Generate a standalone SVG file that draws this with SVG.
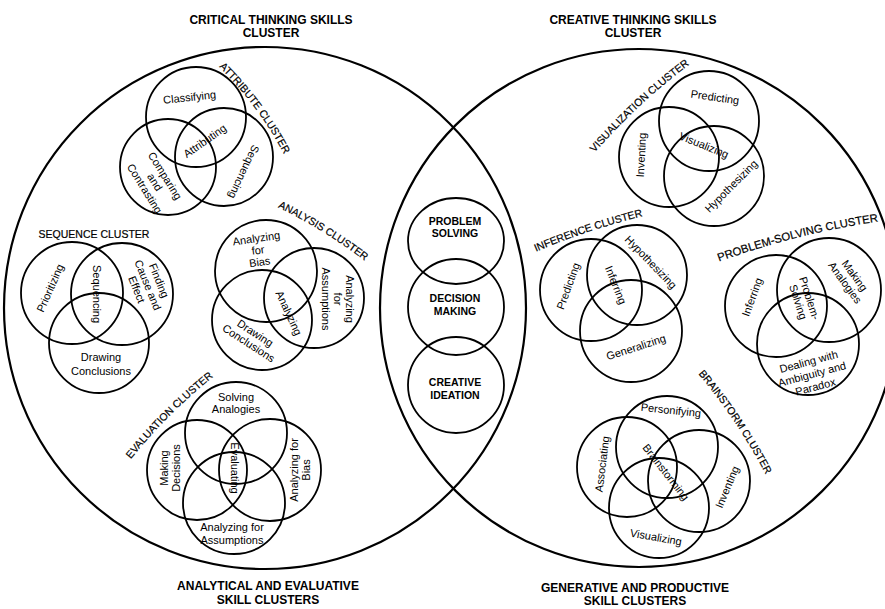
<svg xmlns="http://www.w3.org/2000/svg" width="885" height="609" viewBox="0 0 885 609">
<style>
.big{fill:none;stroke:#000;stroke-width:2.2}
.c{fill:none;stroke:#000;stroke-width:1.8}
text{font-family:"Liberation Sans",Arial,sans-serif;fill:#000;text-anchor:middle}
.t{font-size:11px}
.cl{font-size:10.5px;stroke:#000;stroke-width:0.2}
.ti{font-size:12px;font-weight:bold}
.ce{font-size:10.5px;font-weight:bold}
</style>
<defs>
<path id="p-attr" d="M 216 64 Q 259 105 286 158"/>
<path id="p-anal" d="M 273 205 Q 324 229 369 264"/>
<path id="p-eval" d="M 127 464 Q 167 413 218 373"/>
<path id="p-vis" d="M 591 157 Q 637 103 694 61"/>
<path id="p-inf" d="M 531 254 Q 588 229 648 215"/>
<path id="p-ps" d="M 710 265 Q 795 233 888 220"/>
<path id="p-brain" d="M 695 370 Q 738 420 768 479"/>
</defs>

<g id="titles">
<text class="ti" x="271" y="24">CRITICAL THINKING SKILLS</text>
<text class="ti" x="271" y="37">CLUSTER</text>
<text class="ti" x="633" y="24">CREATIVE THINKING SKILLS</text>
<text class="ti" x="633" y="37">CLUSTER</text>
<text class="ti" x="268" y="590">ANALYTICAL AND EVALUATIVE</text>
<text class="ti" x="268" y="604">SKILL CLUSTERS</text>
<text class="ti" x="635" y="592">GENERATIVE AND PRODUCTIVE</text>
<text class="ti" x="635" y="605">SKILL CLUSTERS</text>
</g>

<g id="critical-circle"><circle class="big" cx="265" cy="308" r="261"/></g>
<g id="creative-circle"><circle class="big" cx="639" cy="308" r="259"/></g>

<g id="attribute-cluster">
<circle class="c" cx="196" cy="117" r="50"/>
<circle class="c" cx="224" cy="157" r="49"/>
<circle class="c" cx="168" cy="167" r="48"/>
<text class="cl"><textPath href="#p-attr" startOffset="50%">ATTRIBUTE CLUSTER</textPath></text>
<text class="t" transform="translate(190,101) rotate(-6)">Classifying</text>
<text class="t" transform="translate(207,144) rotate(-35)">Attributing</text>
<text class="t" transform="translate(244,172) rotate(115)" y="4">Sequencing</text>
<text class="t" transform="translate(155,182) rotate(58)"><tspan x="0" y="-8">Comparing</tspan><tspan x="0" y="4">and</tspan><tspan x="0" y="16">Contrasting</tspan></text>
</g>

<g id="sequence-cluster">
<circle class="c" cx="72" cy="293" r="51"/>
<circle class="c" cx="122" cy="294" r="51"/>
<circle class="c" cx="99" cy="343" r="50"/>
<text class="cl" x="94" y="238">SEQUENCE CLUSTER</text>
<text class="t" transform="translate(50,288) rotate(-66)" y="4">Prioritizing</text>
<text class="t" transform="translate(97,294) rotate(90)" y="4">Sequencing</text>
<text class="t" transform="translate(148,285) rotate(68)"><tspan x="0" y="-8">Finding</tspan><tspan x="0" y="4">Cause and</tspan><tspan x="0" y="16">Effect</tspan></text>
<text class="t" x="101" y="361">Drawing</text>
<text class="t" x="101" y="375">Conclusions</text>
</g>

<g id="analysis-cluster">
<circle class="c" cx="266" cy="271" r="51"/>
<circle class="c" cx="314" cy="298" r="50"/>
<circle class="c" cx="262" cy="320" r="50"/>
<text class="cl"><textPath href="#p-anal" startOffset="50%">ANALYSIS CLUSTER</textPath></text>
<text class="t" transform="translate(258,250) rotate(-8)"><tspan x="0" y="-8">Analyzing</tspan><tspan x="0" y="4">for</tspan><tspan x="0" y="16">Bias</tspan></text>
<text class="t" transform="translate(289,313) rotate(65)" y="4">Analyzing</text>
<text class="t" transform="translate(338,299) rotate(90)"><tspan x="0" y="-8">Analyzing</tspan><tspan x="0" y="4">for</tspan><tspan x="0" y="16">Assumptions</tspan></text>
<text class="t" transform="translate(252,338) rotate(33)"><tspan x="0" y="-2">Drawing</tspan><tspan x="0" y="10">Conclusions</tspan></text>
</g>

<g id="evaluation-cluster">
<circle class="c" cx="236" cy="433" r="51"/>
<circle class="c" cx="197" cy="470" r="50"/>
<circle class="c" cx="270" cy="470" r="51"/>
<circle class="c" cx="234" cy="503" r="51"/>
<text class="cl"><textPath href="#p-eval" startOffset="50%">EVALUATION CLUSTER</textPath></text>
<text class="t" x="236" y="401">Solving</text>
<text class="t" x="236" y="413">Analogies</text>
<text class="t" transform="translate(170,468) rotate(-90)"><tspan x="0" y="-2">Making</tspan><tspan x="0" y="10">Decisions</tspan></text>
<text class="t" transform="translate(235,468) rotate(90)" y="4">Evaluating</text>
<text class="t" transform="translate(300,470) rotate(-90)"><tspan x="0" y="-2">Analyzing for</tspan><tspan x="0" y="10">Bias</tspan></text>
<text class="t" x="232" y="531">Analyzing for</text>
<text class="t" x="232" y="544">Assumptions</text>
</g>

<g id="core-cluster">
<ellipse class="c" cx="456" cy="241" rx="48" ry="43"/>
<circle class="c" cx="456" cy="307" r="48"/>
<circle class="c" cx="456" cy="385" r="48"/>
<text class="ce" x="455" y="225">PROBLEM</text>
<text class="ce" x="455" y="237">SOLVING</text>
<text class="ce" x="455" y="302">DECISION</text>
<text class="ce" x="455" y="315">MAKING</text>
<text class="ce" x="455" y="386">CREATIVE</text>
<text class="ce" x="455" y="399">IDEATION</text>
</g>

<g id="visualization-cluster">
<circle class="c" cx="709" cy="121" r="50"/>
<circle class="c" cx="669" cy="157" r="50"/>
<circle class="c" cx="714" cy="176" r="50"/>
<text class="cl"><textPath href="#p-vis" startOffset="50%">VISUALIZATION CLUSTER</textPath></text>
<text class="t" transform="translate(715,97) rotate(8)" y="4">Predicting</text>
<text class="t" transform="translate(641,155) rotate(-87)" y="4">Inventing</text>
<text class="t" transform="translate(704,145) rotate(22)" y="4">Visualizing</text>
<text class="t" transform="translate(731,186) rotate(-45)" y="4">Hypothesizing</text>
</g>

<g id="inference-cluster">
<circle class="c" cx="591" cy="290" r="51"/>
<circle class="c" cx="637" cy="275" r="50"/>
<circle class="c" cx="631" cy="331" r="51"/>
<text class="cl"><textPath href="#p-inf" startOffset="50%">INFERENCE CLUSTER</textPath></text>
<text class="t" transform="translate(568,286) rotate(-70)" y="4">Predicting</text>
<text class="t" transform="translate(616,285) rotate(68)" y="4">Inferring</text>
<text class="t" transform="translate(651,262) rotate(46)" y="4">Hypothesizing</text>
<text class="t" transform="translate(636,347) rotate(-18)" y="4">Generalizing</text>
</g>

<g id="problem-solving-cluster">
<circle class="c" cx="776" cy="306" r="51"/>
<circle class="c" cx="829" cy="290" r="52"/>
<circle class="c" cx="808" cy="344" r="51"/>
<text class="cl" style="font-size:11.3px"><textPath href="#p-ps" startOffset="50%">PROBLEM-SOLVING CLUSTER</textPath></text>
<text class="t" transform="translate(752,297) rotate(-70)" y="4">Inferring</text>
<text class="t" transform="translate(804,300) rotate(72)"><tspan x="0" y="-2">Problem-</tspan><tspan x="0" y="10">Solving</tspan></text>
<text class="t" transform="translate(850,279) rotate(54)"><tspan x="0" y="-2">Making</tspan><tspan x="0" y="10">Analogies</tspan></text>
<text class="t" transform="translate(812,374) rotate(-15)"><tspan x="0" y="-9">Dealing with</tspan><tspan x="0" y="4">Ambiguity and</tspan><tspan x="0" y="17">Paradox</tspan></text>
</g>

<g id="brainstorm-cluster">
<circle class="c" cx="667" cy="447" r="51"/>
<circle class="c" cx="627" cy="467" r="50"/>
<circle class="c" cx="699" cy="481" r="51"/>
<circle class="c" cx="659" cy="508" r="50"/>
<text class="cl"><textPath href="#p-brain" startOffset="50%">BRAINSTORM CLUSTER</textPath></text>
<text class="t" transform="translate(671,410) rotate(6)" y="4">Personifying</text>
<text class="t" transform="translate(602,464) rotate(-83)" y="4">Associating</text>
<text class="t" transform="translate(666,472) rotate(52)" y="4">Brainstorming</text>
<text class="t" transform="translate(727,487) rotate(-67)" y="4">Inventing</text>
<text class="t" transform="translate(656,537) rotate(10)" y="4">Visualizing</text>
</g>

<g id="connectors"/>
</svg>
